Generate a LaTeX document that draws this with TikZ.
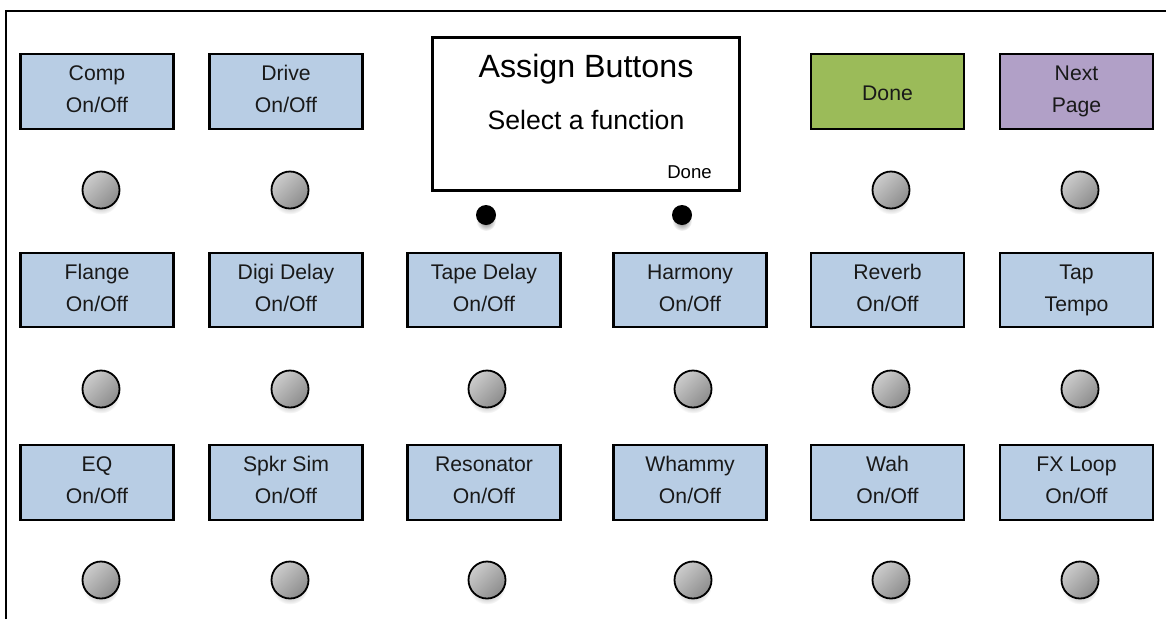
\documentclass[tikz,border=0pt]{standalone}
\usepackage{fontspec}
\setmainfont{Liberation Sans}
\usetikzlibrary{shadows,fadings}
\definecolor{btnblue}{RGB}{184,205,228}
\definecolor{btngreen}{RGB}{155,187,89}
\definecolor{btnpurple}{RGB}{177,160,199}
\newcommand{\twoline}[2]{\rule[-11pt]{0pt}{32pt}#1\\\rule[-11pt]{0pt}{32pt}#2}
\newcommand{\twolinelow}[2]{\rule[-11.3pt]{0pt}{32pt}#1\\\rule[-11.3pt]{0pt}{31pt}#2}
\tikzfading[name=softedge, inner color=transparent!0, outer color=transparent!100]
\tikzset{
  x=1pt,y=-1pt,
  softshadow/.style={general shadow={shadow xshift=0pt,shadow yshift=-6pt,fill=black,opacity=.55,path fading=softedge,scale=1.4}},
  lcd/.style={draw=black,line width=2.3pt,minimum width=153pt,minimum height=74.5pt,inner sep=0pt,align=center,font=\fontsize{21.2}{32}\selectfont,text=black!90},
  bluebox/.style={lcd,fill=btnblue},
  greenbox/.style={lcd,fill=btngreen},
  purplebox/.style={lcd,fill=btnpurple},
  knob/.style={circle,draw=black,line width=1.8pt,minimum size=37pt,inner sep=0pt,left color=black!20,right color=black!45,shading angle=45,softshadow},
  led/.style={circle,fill=black,minimum size=20pt,inner sep=0pt,softshadow},
  screen/.style={draw=black,line width=2.3pt,fill=white,minimum width=307pt,minimum height=153pt,inner sep=0pt},
  frameline/.style={draw=black,line width=2.2pt}
}
\begin{document}
\begin{tikzpicture}
\useasboundingbox (0,0) rectangle (1166,619);
\coordinate (fa) at (6,619);
\coordinate (fb) at (6,11);
\coordinate (fc) at (1166,11);
\draw[frameline] (fa) -- (fb) -- (fc);
% top row
\node[bluebox] (b1) at (97,91.5) {\twoline{Comp}{On/Off}};
\node[bluebox] (b2) at (286,91.5) {\twoline{Drive}{On/Off}};
\node[greenbox] (b3) at (887.5,91.5) {\rule{0pt}{19pt}Done};
\node[purplebox] (b4) at (1076.5,91.5) {\twoline{Next}{Page}};
\node[screen] (scr) at (586,114) {};
\node[font=\fontsize{32.2}{36}\selectfont] (t1) at (586,69) {Assign Buttons};
\node[font=\fontsize{26.6}{30}\selectfont] (t2) at (586,119.5) {Select a function};
\node[font=\fontsize{18.6}{20}\selectfont] (t3) at (689.5,172) {Done};
% middle row
\node[bluebox] (c1) at (97,290) {\twoline{Flange}{On/Off}};
\node[bluebox] (c2) at (286,290) {\twoline{Digi Delay}{On/Off}};
\node[bluebox] (c3) at (484,290) {\twoline{Tape Delay}{On/Off}};
\node[bluebox] (c4) at (690,290) {\twoline{Harmony}{On/Off}};
\node[bluebox] (c5) at (887.5,290) {\twoline{Reverb}{On/Off}};
\node[bluebox] (c6) at (1076.5,290) {\twoline{Tap}{Tempo}};
% bottom row
\node[bluebox] (d1) at (97,482.5) {\twolinelow{EQ}{On/Off}};
\node[bluebox] (d2) at (286,482.5) {\twolinelow{Spkr Sim}{On/Off}};
\node[bluebox] (d3) at (484,482.5) {\twolinelow{Resonator}{On/Off}};
\node[bluebox] (d4) at (690,482.5) {\twolinelow{Whammy}{On/Off}};
\node[bluebox] (d5) at (887.5,482.5) {\twolinelow{Wah}{On/Off}};
\node[bluebox] (d6) at (1076.5,482.5) {\twolinelow{FX Loop}{On/Off}};
% knobs
\node[knob] (k1) at (101,190) {};
\node[knob] (k2) at (290,190) {};
\node[knob] (k3) at (891,190) {};
\node[knob] (k4) at (1080,190) {};
\node[led] (l1) at (486,215) {};
\node[led] (l2) at (682,215) {};
\node[knob] (m1) at (101,389) {};
\node[knob] (m2) at (290,389) {};
\node[knob] (m3) at (487,389) {};
\node[knob] (m4) at (693,389) {};
\node[knob] (m5) at (891,389) {};
\node[knob] (m6) at (1080,389) {};
\node[knob] (n1) at (101,580) {};
\node[knob] (n2) at (290,580) {};
\node[knob] (n3) at (487,580) {};
\node[knob] (n4) at (693,580) {};
\node[knob] (n5) at (891,580) {};
\node[knob] (n6) at (1080,580) {};
\end{tikzpicture}
\end{document}
